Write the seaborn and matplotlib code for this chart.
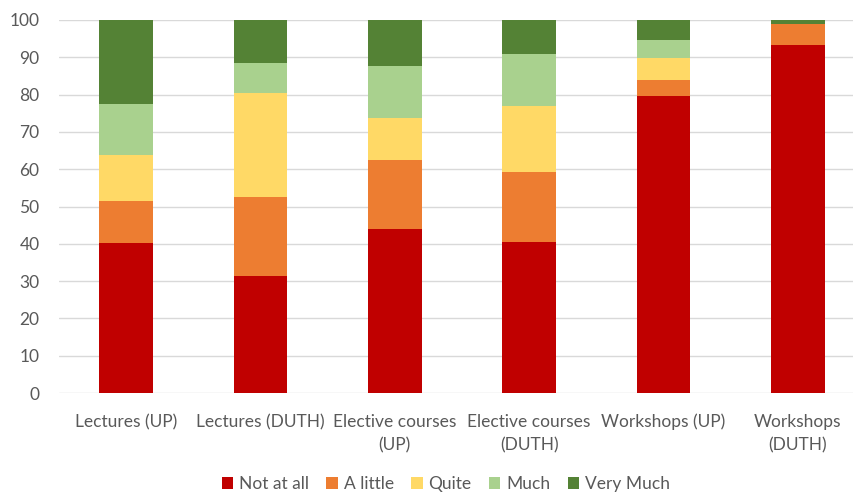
import matplotlib
matplotlib.use("Agg")
import matplotlib.pyplot as plt
import seaborn as sns
import pandas as pd
import numpy as np

categories = ["Lectures (UP)", "Lectures (DUTH)", "Elective courses\n(UP)",
              "Elective courses\n(DUTH)", "Workshops (UP)", "Workshops\n(DUTH)"]
levels = ["Not at all", "A little", "Quite", "Much", "Very Much"]
not_at_all = [40.2, 31.4, 43.9, 40.5, 79.6, 93.2]
a_little = [11.2, 21.1, 18.7, 18.8, 4.4, 5.7]
quite = [12.3, 27.8, 11.2, 17.6, 5.8, 0.0]
much = [13.9, 8.1, 14.0, 13.9, 4.8, 0.0]
very_much = [22.4, 11.6, 12.2, 9.2, 5.4, 1.1]
colors = ["#C00000", "#ED7D31", "#FFD966", "#A9D18E", "#548235"]

series = [not_at_all, a_little, quite, much, very_much]
cum = np.cumsum(np.array(series), axis=0)

sns.set_theme(style="white")
plt.rcParams["font.family"] = ["Lato", "DejaVu Sans"]
text_color = "#595959"

fig = plt.figure(figsize=(8.54, 4.93), dpi=100)
ax = fig.add_axes([59 / 854, 100 / 493, 806 / 854, 373 / 493])

# Stack by drawing cumulative totals from the top layer down
for i in range(len(levels) - 1, -1, -1):
    df = pd.DataFrame({"category": categories, "value": cum[i]})
    sns.barplot(data=df, x="category", y="value", color=colors[i], width=0.40,
                saturation=1, ax=ax, label=levels[i], linewidth=0, zorder=3)

if ax.get_legend() is not None:
    ax.get_legend().remove()

ax.set_ylim(0, 100)
ax.set_xlim(-0.5, len(categories) - 0.5)
ax.set_yticks(range(0, 101, 10))
ax.set_xticks(range(len(categories)), categories)
ax.yaxis.grid(True, color="#D9D9D9", linewidth=1.0, zorder=0)
ax.set_axisbelow(True)
for s in ax.spines.values():
    s.set_visible(False)
ax.set_xlabel("")
ax.set_ylabel("")
ax.tick_params(axis="both", length=0, labelsize=12.5, colors=text_color)
ax.tick_params(axis="y", pad=14)
ax.tick_params(axis="x", pad=15)
for tick in ax.xaxis.get_major_ticks():
    tick.label1.set_linespacing(1.6)

handles, labels = ax.get_legend_handles_labels()
order = [labels.index(l) for l in levels]
leg = fig.legend([handles[k] for k in order], levels, loc="center",
                 bbox_to_anchor=(446 / 854, 1 - 484 / 493), ncol=5, frameon=False,
                 fontsize=12.5, handlelength=0.65, handleheight=0.65,
                 handletextpad=0.35, columnspacing=1.0)
for t in leg.get_texts():
    t.set_color(text_color)

fig.savefig("out.png", dpi=100)
